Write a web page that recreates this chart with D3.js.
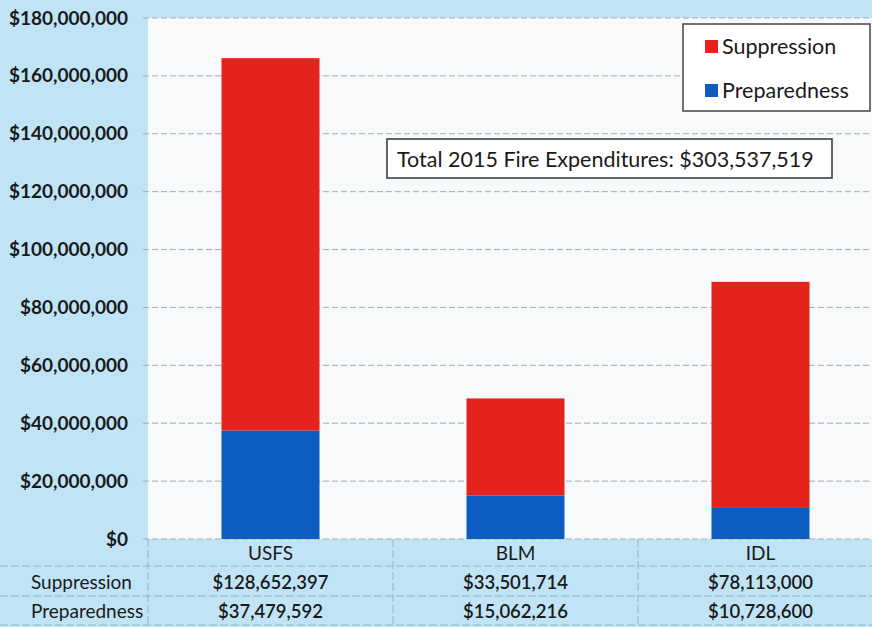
<!DOCTYPE html>
<html>
<head>
<meta charset="utf-8">
<script src="https://cdn.jsdelivr.net/npm/d3@7"></script>
<style>
  body { margin: 0; background: #c0e4f6; }
  svg { display: block; }
  text { font-family: Lato, "Open Sans", sans-serif; fill: #1a1a1a; }
</style>
</head>
<body>
<div id="chart"></div>
<script>
const agencies = ["USFS", "BLM", "IDL"];
const suppression = [128652397, 33501714, 78113000];
const preparedness = [37479592, 15062216, 10728600];
const seriesNames = ["Preparedness", "Suppression"];
const yTicks = [0, 20e6, 40e6, 60e6, 80e6, 100e6, 120e6, 140e6, 160e6, 180e6];
const totalLabel = "Total 2015 Fire Expenditures: $303,537,519";

const w = 872, h = 627;
const plotLeft = 148, plotRight = 883, plotTop = 18, plotBottom = 539;

const svg = d3.select("#chart").append("svg").attr("width", w).attr("height", h);

svg.append("rect").attr("width", w).attr("height", h).attr("fill", "#c0e4f6");

const x = d3.scaleBand().domain(agencies).range([plotLeft, plotRight]).paddingInner(0.6).paddingOuter(0.3);
const y = d3.scaleLinear().domain([0, 180e6]).range([plotBottom, plotTop]);
const color = d3.scaleOrdinal().domain(seriesNames).range(["#0d5cc2", "#e4231d"]);

// plot background
svg.append("rect").attr("x", plotLeft).attr("y", plotTop).attr("width", plotRight - plotLeft).attr("height", plotBottom - plotTop)
  .attr("fill", "#f7f9fa");

// grid
svg.append("g").selectAll("line").data(yTicks).enter().append("line")
  .attr("x1", plotLeft - 5).attr("x2", plotRight)
  .attr("y1", d => y(d)).attr("y2", d => y(d))
  .attr("stroke", "#a5adb2").attr("stroke-width", 1).attr("stroke-dasharray", "6,3");

// y axis
const yAxis = d3.axisLeft(y).tickValues(yTicks).tickSize(0).tickPadding(20)
  .tickFormat(d => "$" + d3.format(",")(d));
const ga = svg.append("g").attr("transform", "translate(" + plotLeft + ",0)").call(yAxis);
ga.select(".domain").remove();
ga.selectAll("text").attr("font-size", 19).attr("font-weight", "bold")
  .style("font-family", "Lato, sans-serif").attr("fill", "#1a1a1a");

// stacked bars
const rows = agencies.map((a, i) => ({agency: a, Preparedness: preparedness[i], Suppression: suppression[i]}));
const stacked = d3.stack().keys(seriesNames)(rows);
svg.append("g").selectAll("g").data(stacked).enter().append("g")
  .attr("fill", d => color(d.key))
  .selectAll("rect").data(d => d).enter().append("rect")
  .attr("x", d => x(d.data.agency))
  .attr("width", x.bandwidth())
  .attr("y", d => y(d[1]))
  .attr("height", d => y(d[0]) - y(d[1]));

// data table
const rowY = [plotBottom, 566, 596, 625];
const table = svg.append("g");
table.selectAll("line.h").data(rowY.slice(1)).enter().append("line")
  .attr("x1", 0).attr("x2", plotRight).attr("y1", d => d).attr("y2", d => d)
  .attr("stroke", "#9bb0ba").attr("stroke-dasharray", "8,3");
const step = x.step();
const dividers = [plotLeft, plotLeft + step, plotLeft + 2 * step];
table.selectAll("line.v").data(dividers).enter().append("line")
  .attr("x1", d => d).attr("x2", d => d).attr("y1", plotBottom).attr("y2", h)
  .attr("stroke", "#9bb0ba").attr("stroke-dasharray", "8,3");

const center = a => x(a) + x.bandwidth() / 2;
table.selectAll("text.cat").data(agencies).enter().append("text")
  .attr("x", center).attr("y", 560).attr("text-anchor", "middle")
  .attr("font-size", 19).text(d => d);
table.selectAll("text.sup").data(suppression).enter().append("text")
  .attr("x", (d, i) => center(agencies[i])).attr("y", 589).attr("text-anchor", "middle")
  .attr("font-size", 18.5).attr("font-weight", 600).text(d => "$" + d3.format(",")(d));
table.selectAll("text.pre").data(preparedness).enter().append("text")
  .attr("x", (d, i) => center(agencies[i])).attr("y", 618).attr("text-anchor", "middle")
  .attr("font-size", 18.5).attr("font-weight", 600).text(d => "$" + d3.format(",")(d));
table.append("text").attr("x", 31).attr("y", 589).attr("font-size", 19).text("Suppression");
table.append("text").attr("x", 31).attr("y", 618).attr("font-size", 19).text("Preparedness");

// legend
const lg = svg.append("g");
lg.append("rect").attr("x", 683).attr("y", 24).attr("width", 187).attr("height", 87)
  .attr("fill", "#ffffff").attr("stroke", "#444").attr("stroke-width", 1.5);
["Suppression", "Preparedness"].forEach((k, i) => {
  lg.append("rect").attr("x", 705).attr("y", 40 + i * 44).attr("width", 13).attr("height", 13)
    .attr("fill", color(k));
  lg.append("text").attr("x", 722).attr("y", 54 + i * 44).attr("font-size", 21.5).text(k);
});

// total annotation
svg.append("rect").attr("x", 387).attr("y", 139).attr("width", 445).attr("height", 39)
  .attr("fill", "#ffffff").attr("stroke", "#333").attr("stroke-width", 1.5);
svg.append("text").attr("x", 397).attr("y", 167).attr("font-size", 21.5).text(totalLabel);
</script>
</body>
</html>
